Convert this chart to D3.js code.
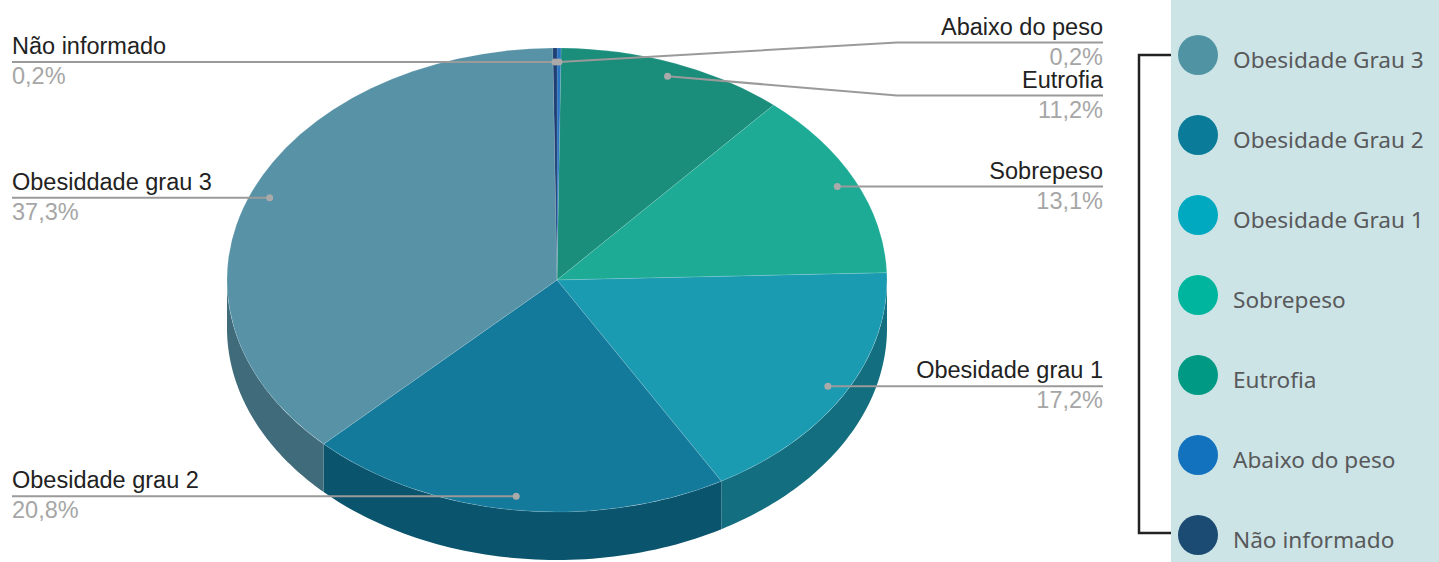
<!DOCTYPE html>
<html>
<head>
<meta charset="utf-8">
<script src="https://cdn.jsdelivr.net/npm/d3@7"></script>
<style>
  html, body { margin: 0; padding: 0; background: #fff; }
  svg { display: block; }
</style>
</head>
<body>
<svg id="chart" width="1439" height="562"></svg>
<script>
// slices, clockwise from 12 o'clock
const categories = ['Abaixo do peso', 'Eutrofia', 'Sobrepeso', 'Obesidade grau 1', 'Obesidade grau 2', 'Obesiddade grau 3', 'Não informado'];
const values = [0.2, 11.2, 13.1, 17.2, 20.8, 37.3, 0.2];
const valueLabels = ['0,2%', '11,2%', '13,1%', '17,2%', '20,8%', '37,3%', '0,2%'];
const topColors = ['#2a74c0', '#1a8d7b', '#1eab96', '#1b9bb2', '#137a9b', '#5792a6', '#1d3f73'];
const sideColors = ['#1d518a', '#126256', '#157869', '#136e7f', '#0a546e', '#406b7a', '#142c51'];

// legend on the right
const legendNames = ['Obesidade Grau 3', 'Obesidade Grau 2', 'Obesidade Grau 1', 'Sobrepeso', 'Eutrofia', 'Abaixo do peso', 'Não informado'];
const legendColors = ['#5094a4', '#0a7c99', '#00a9c0', '#00b59d', '#009a84', '#1272bd', '#1b4b73'];

const cx = 557, cy = 280, rx = 330, ry = 232, depth = 48;
const dotFrac = 0.94;

const svg = d3.select('#chart');

const pie = d3.pie().sort(null).value(d => d);
const arcs = pie(values);

const px = (a, f = 1) => cx + Math.sin(a) * rx * f;
const py = (a, f = 1) => cy - Math.cos(a) * ry * f;

// side walls (only the front half is visible)
const sideG = svg.append('g');
arcs.forEach((d, i) => {
  const s = Math.max(d.startAngle, Math.PI / 2);
  const e = Math.min(d.endAngle, Math.PI * 3 / 2);
  if (e <= s) return;
  const steps = d3.range(0, 61).map(k => s + (e - s) * k / 60);
  const pts = steps.map(a => [px(a), py(a)])
    .concat(steps.slice().reverse().map(a => [px(a), py(a) + depth]));
  sideG.append('path')
    .attr('d', d3.line()(pts) + 'Z')
    .attr('fill', sideColors[i]);
});

// top faces
const arc = d3.arc().innerRadius(0).outerRadius(rx);
svg.append('g')
  .attr('transform', `translate(${cx},${cy}) scale(1,${ry / rx})`)
  .selectAll('path')
  .data(arcs)
  .join('path')
  .attr('d', arc)
  .attr('fill', (d, i) => topColors[i])
  .attr('stroke', 'rgba(255,255,255,0.12)')
  .attr('stroke-width', 1)
  .attr('vector-effect', 'non-scaling-stroke');

// labels
const labels = arcs.map((d, i) => {
  const mid = (d.startAngle + d.endAngle) / 2;
  return {
    name: categories[i],
    value: valueLabels[i],
    dx: px(mid, dotFrac),
    dy: py(mid, dotFrac),
    side: Math.sin(mid) >= 0 ? 'right' : 'left',
    y: py(mid, dotFrac)
  };
});

const minGap = 53;
['left', 'right'].forEach(side => {
  const list = labels.filter(l => l.side === side).sort((a, b) => a.y - b.y);
  for (let iter = 0; iter < 20; iter++) {
    let moved = false;
    for (let k = 0; k < list.length - 1; k++) {
      const a = list[k], b = list[k + 1];
      if (b.y - a.y < minGap - 0.01) {
        const m = (a.y + b.y) / 2;
        a.y = m - minGap / 2;
        b.y = m + minGap / 2;
        moved = true;
      }
    }
    if (!moved) break;
  }
});

const labelG = svg.append('g');
const leftX = 12, rightX = 1103;
const elbowL = cx - rx - 10, elbowR = cx + rx + 10;

labels.forEach(l => {
  const isRight = l.side === 'right';
  const endX = isRight ? rightX : leftX;
  const elbow = isRight ? elbowR : elbowL;
  const pts = Math.abs(l.y - l.dy) < 0.5
    ? [[l.dx, l.dy], [endX, l.y]]
    : [[l.dx, l.dy], [elbow, l.y], [endX, l.y]];
  labelG.append('path')
    .attr('d', d3.line()(pts))
    .attr('fill', 'none')
    .attr('stroke', '#9a9a9a')
    .attr('stroke-width', 2);
  labelG.append('circle')
    .attr('cx', l.dx).attr('cy', l.dy).attr('r', 3.5)
    .attr('fill', '#aaaaaa');
  labelG.append('text')
    .attr('x', endX).attr('y', l.y - 8)
    .attr('text-anchor', isRight ? 'end' : 'start')
    .attr('font-family', '"Liberation Sans", Arial, sans-serif')
    .attr('font-size', 23.5)
    .attr('fill', '#222')
    .text(l.name);
  labelG.append('text')
    .attr('x', endX).attr('y', l.y + 22)
    .attr('text-anchor', isRight ? 'end' : 'start')
    .attr('font-family', '"Liberation Sans", Arial, sans-serif')
    .attr('font-size', 23.5)
    .attr('fill', '#a6a6a6')
    .text(l.value);
});

// legend panel
const legendY = d3.scalePoint().domain(legendNames).range([55, 535]);
const lg = svg.append('g');
lg.append('rect')
  .attr('x', 1171).attr('y', 0)
  .attr('width', 268).attr('height', 562)
  .attr('fill', '#cce4e6');

lg.append('path')
  .attr('d', d3.line()([
    [1171, legendY(legendNames[0])],
    [1139, legendY(legendNames[0])],
    [1139, legendY(legendNames[legendNames.length - 1]) - 2],
    [1171, legendY(legendNames[legendNames.length - 1]) - 2]
  ]))
  .attr('fill', 'none')
  .attr('stroke', '#222')
  .attr('stroke-width', 2.5);

const items = lg.selectAll('g.item')
  .data(legendNames)
  .join('g')
  .attr('class', 'item')
  .attr('transform', d => `translate(0,${legendY(d)})`);

items.append('circle')
  .attr('cx', 1198).attr('cy', 0).attr('r', 20)
  .attr('fill', (d, i) => legendColors[i]);

items.append('text')
  .attr('x', 1233).attr('y', 13)
  .attr('font-family', '"Noto Sans", sans-serif')
  .attr('font-size', 22.6)
  .attr('fill', '#58595b')
  .text(d => d);
</script>
</body>
</html>
